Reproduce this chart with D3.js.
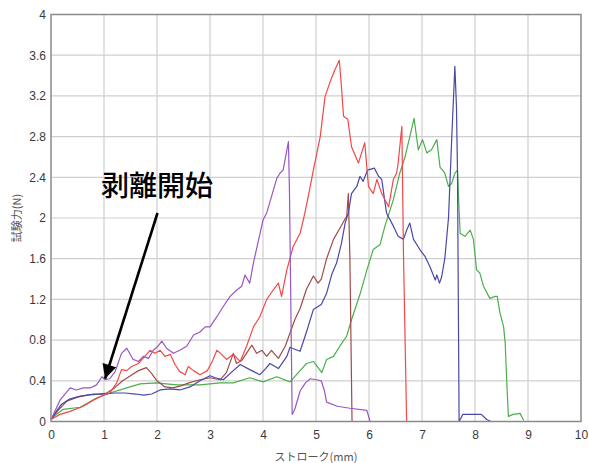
<!DOCTYPE html>
<html>
<head>
<meta charset="utf-8">
<script src="https://cdn.jsdelivr.net/npm/d3@7"></script>
<style>
  html, body { margin: 0; padding: 0; background: #fff; }
  svg { display: block; }
</style>
</head>
<body>
<svg id="chart" width="589" height="463"></svg>
<script>
// Peel test curves: stroke (mm) vs. test force (N), five specimens
const xTicks = [0, 1, 2, 3, 4, 5, 6, 7, 8, 9, 10];
const yTicks = [0, 0.4, 0.8, 1.2, 1.6, 2, 2.4, 2.8, 3.2, 3.6, 4];
const xTitle = "ストローク(mm)";
const yTitle = "試験力(N)";
const noteText = "剥離開始";
const notePoint = [1.02, 0.42];

const purple = [
  [0,0.02],[0.17,0.21],[0.36,0.33],[0.48,0.31],[0.61,0.33],[0.74,0.33],[0.86,0.36],[0.96,0.44],
  [1.02,0.41],[1.11,0.42],[1.21,0.49],[1.33,0.67],[1.43,0.72],[1.55,0.61],[1.65,0.59],[1.74,0.64],
  [1.84,0.62],[1.93,0.7],[2.02,0.74],[2.09,0.79],[2.18,0.72],[2.31,0.67],[2.43,0.7],[2.56,0.74],
  [2.69,0.85],[2.81,0.88],[2.91,0.93],[3.0,0.93],[3.13,1.03],[3.25,1.13],[3.38,1.23],[3.5,1.29],
  [3.6,1.33],[3.66,1.44],[3.75,1.36],[3.82,1.56],[3.88,1.7],[4.0,1.98],[4.07,2.05],[4.16,2.21],
  [4.26,2.39],[4.32,2.44],[4.38,2.47],[4.48,2.75],[4.5,2.24],[4.55,0.07],[4.6,0.12],[4.7,0.3],
  [4.8,0.38],[4.89,0.42],[5.01,0.41],[5.1,0.4],[5.16,0.3],[5.2,0.19],[5.4,0.15],[5.64,0.13],
  [5.96,0.11],[6.02,0]
];
const red = [
  [0,0.02],[0.17,0.07],[0.36,0.1],[0.61,0.15],[0.8,0.21],[0.99,0.26],[1.11,0.28],[1.24,0.38],
  [1.33,0.51],[1.43,0.5],[1.52,0.54],[1.65,0.57],[1.77,0.64],[1.87,0.7],[1.96,0.67],[2.06,0.7],
  [2.15,0.64],[2.25,0.66],[2.34,0.56],[2.43,0.49],[2.53,0.46],[2.59,0.54],[2.69,0.5],[2.81,0.46],
  [2.95,0.5],[3.05,0.6],[3.13,0.7],[3.22,0.66],[3.31,0.61],[3.44,0.66],[3.57,0.59],[3.69,0.74],
  [3.82,0.93],[3.94,1.03],[4.07,1.2],[4.19,1.29],[4.29,1.36],[4.35,1.23],[4.45,1.49],[4.57,1.72],
  [4.7,1.85],[4.76,1.98],[4.85,2.2],[4.95,2.47],[5.08,2.8],[5.17,3.19],[5.26,3.33],[5.35,3.45],
  [5.44,3.55],[5.48,3.29],[5.52,3.0],[5.6,2.97],[5.67,2.7],[5.8,2.54],[5.92,2.74],[5.99,2.31],
  [6.08,2.24],[6.15,2.38],[6.24,2.24],[6.37,2.11],[6.46,2.38],[6.52,2.44],[6.55,2.54],[6.62,2.9],
  [6.65,1.66],[6.71,0]
];
const brown = [
  [0,0.02],[0.15,0.12],[0.3,0.2],[0.5,0.24],[0.7,0.26],[0.9,0.27],[1.05,0.28],[1.2,0.33],
  [1.35,0.4],[1.5,0.45],[1.65,0.5],[1.8,0.53],[1.9,0.47],[2.0,0.4],[2.15,0.34],[2.3,0.33],
  [2.45,0.35],[2.6,0.38],[2.81,0.41],[3.0,0.43],[3.19,0.41],[3.31,0.48],[3.44,0.67],[3.5,0.57],
  [3.6,0.6],[3.7,0.68],[3.79,0.75],[3.88,0.67],[3.98,0.7],[4.07,0.64],[4.16,0.7],[4.29,0.62],
  [4.42,0.74],[4.51,0.87],[4.6,1.0],[4.7,1.11],[4.82,1.3],[4.95,1.43],[5.04,1.36],[5.1,1.4],
  [5.2,1.6],[5.33,1.79],[5.45,1.9],[5.58,2.02],[5.61,2.24],[5.64,1.59],[5.68,0]
];
const blue = [
  [0,0.02],[0.1,0.1],[0.2,0.17],[0.35,0.22],[0.55,0.25],[0.8,0.27],[1.0,0.27],[1.2,0.28],
  [1.4,0.28],[1.6,0.27],[1.75,0.26],[1.9,0.27],[2.06,0.31],[2.25,0.32],[2.43,0.31],[2.62,0.34],
  [2.81,0.4],[3.0,0.45],[3.1,0.43],[3.25,0.41],[3.44,0.5],[3.57,0.56],[3.75,0.51],[3.94,0.46],
  [4.05,0.52],[4.13,0.57],[4.29,0.52],[4.45,0.64],[4.51,0.73],[4.6,0.71],[4.7,0.69],[4.82,0.88],
  [4.95,1.1],[5.04,1.13],[5.1,1.15],[5.2,1.26],[5.3,1.45],[5.39,1.56],[5.48,1.75],[5.55,1.95],
  [5.61,2.05],[5.67,2.24],[5.77,2.31],[5.83,2.41],[5.89,2.36],[5.97,2.47],[6.1,2.49],[6.18,2.41],
  [6.24,2.38],[6.33,2.05],[6.46,1.92],[6.55,1.82],[6.65,1.79],[6.71,1.88],[6.77,1.95],[6.84,1.79],
  [6.96,1.69],[7.06,1.62],[7.15,1.52],[7.25,1.39],[7.28,1.44],[7.33,1.36],[7.37,1.42],[7.43,1.6],
  [7.5,2.0],[7.56,2.77],[7.62,3.49],[7.65,3.1],[7.67,2.44],[7.7,0],[7.75,0.05],[7.77,0.07],
  [8.12,0.07],[8.22,0.02],[8.3,0]
];
const green = [
  [0,0.02],[0.05,0.05],[0.23,0.12],[0.55,0.14],[0.86,0.23],[1.11,0.28],[1.43,0.33],[1.68,0.37],
  [1.99,0.38],[2.37,0.36],[2.81,0.36],[3.19,0.38],[3.44,0.38],[3.75,0.43],[4.0,0.39],[4.26,0.44],
  [4.51,0.39],[4.7,0.5],[4.82,0.57],[4.95,0.59],[5.04,0.53],[5.11,0.48],[5.2,0.61],[5.33,0.64],
  [5.45,0.74],[5.58,0.84],[5.67,1.0],[5.83,1.25],[5.96,1.49],[6.08,1.69],[6.21,1.74],[6.3,1.92],
  [6.46,2.18],[6.58,2.44],[6.68,2.6],[6.77,2.8],[6.85,2.98],[6.93,2.67],[7.01,2.77],[7.09,2.64],
  [7.18,2.67],[7.28,2.77],[7.34,2.5],[7.43,2.44],[7.5,2.31],[7.56,2.34],[7.62,2.44],[7.67,2.47],
  [7.69,2.2],[7.72,1.85],[7.81,1.82],[7.91,1.88],[7.97,1.79],[8.03,1.49],[8.09,1.46],[8.16,1.33],
  [8.28,1.21],[8.38,1.23],[8.42,1.23],[8.47,1.07],[8.54,0.93],[8.57,0.77],[8.6,0.38],[8.63,0.05],
  [8.72,0.07],[8.85,0.08],[8.92,0.01]
];

const series = [
  { name: "green", color: "#4cae4c", pts: green },
  { name: "brown", color: "#a04a4a", pts: brown },
  { name: "blue", color: "#4848a8", pts: blue },
  { name: "red", color: "#f24848", pts: red },
  { name: "purple", color: "#9a56c2", pts: purple }
];

const svg = d3.select("#chart");
const m = { left: 51, right: 8, top: 14.5, bottom: 41.5 };
const W = 589, H = 463;

const x = d3.scaleLinear().domain([0, 10]).range([m.left, W - m.right]);
const y = d3.scaleLinear().domain([0, 4]).range([H - m.bottom, m.top]);

// grid
const grid = svg.append("g");
grid.selectAll(".gx").data(xTicks.slice(1, -1)).join("line")
  .attr("x1", d => x(d)).attr("x2", d => x(d))
  .attr("y1", y(0)).attr("y2", y(4))
  .attr("stroke", "#cfcfcf").attr("stroke-width", 1.2);
grid.selectAll(".gy").data(yTicks.slice(1, -1)).join("line")
  .attr("x1", x(0)).attr("x2", x(10))
  .attr("y1", d => y(d)).attr("y2", d => y(d))
  .attr("stroke", "#cfcfcf").attr("stroke-width", 1.2);

// curves
const line = d3.line().x(d => x(d[0])).y(d => y(d[1]));
svg.append("g").selectAll("path").data(series).join("path")
  .attr("d", d => line(d.pts))
  .attr("fill", "none")
  .attr("stroke", d => d.color)
  .attr("stroke-width", 1.2)
  .attr("stroke-linejoin", "round");

// frame
svg.append("rect")
  .attr("x", x(0)).attr("y", y(4))
  .attr("width", x(10) - x(0)).attr("height", y(0) - y(4))
  .attr("fill", "none").attr("stroke", "#8a8a8a").attr("stroke-width", 1.5);

// axes
const xAxis = svg.append("g").attr("transform", `translate(0,${y(0)})`)
  .call(d3.axisBottom(x).tickValues(xTicks).tickSize(0).tickPadding(9).tickFormat(d3.format("d")));
const yAxis = svg.append("g").attr("transform", `translate(${x(0)},0)`)
  .call(d3.axisLeft(y).tickValues(yTicks).tickSize(0).tickPadding(5).tickFormat(d => String(d)));
[xAxis, yAxis].forEach(g => {
  g.select(".domain").remove();
  g.selectAll("text")
    .attr("font-family", "Liberation Sans, Arial, sans-serif")
    .attr("font-size", 12)
    .attr("fill", "#3a3a3a");
});

// axis titles
svg.append("text")
  .attr("x", (x(0) + x(10)) / 2 + 0)
  .attr("y", 461)
  .attr("text-anchor", "middle")
  .attr("font-family", "Noto Sans CJK JP, sans-serif")
  .attr("font-size", 11)
  .attr("fill", "#555")
  .text(xTitle);
svg.append("text")
  .attr("transform", `translate(21,${y(2.0)}) rotate(-90)`)
  .attr("text-anchor", "middle")
  .attr("font-family", "Noto Sans CJK JP, sans-serif")
  .attr("font-size", 11)
  .attr("fill", "#555")
  .text(yTitle);

// annotation with arrow
const defs = svg.append("defs");
defs.append("marker")
  .attr("id", "arrowhead")
  .attr("viewBox", "0 0 10 10")
  .attr("refX", 10).attr("refY", 5)
  .attr("markerWidth", 6).attr("markerHeight", 5.5)
  .attr("markerUnits", "strokeWidth")
  .attr("orient", "auto")
  .append("path").attr("d", "M0,0 L10,5 L0,10 Z").attr("fill", "#000");

svg.append("line")
  .attr("x1", 157.5).attr("y1", 213)
  .attr("x2", x(notePoint[0])).attr("y2", y(notePoint[1]))
  .attr("stroke", "#000").attr("stroke-width", 2.6)
  .attr("marker-end", "url(#arrowhead)");

svg.append("text")
  .attr("x", 157)
  .attr("y", 196)
  .attr("text-anchor", "middle")
  .attr("font-family", "Noto Sans CJK JP, sans-serif")
  .attr("font-size", 28)
  .attr("font-weight", 500)
  .attr("fill", "#000")
  .text(noteText);
</script>
</body>
</html>
